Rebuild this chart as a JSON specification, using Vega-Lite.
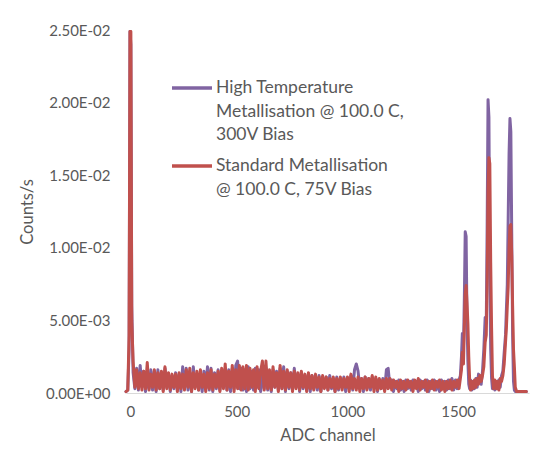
{
  "$schema": "https://vega.github.io/schema/vega-lite/v6.json",
  "autosize": {"type": "none"},
  "width": 403,
  "height": 363,
  "padding": {"left": 126, "top": 30, "right": 23, "bottom": 57},
  "background": "white",
  "config": {"view": {"stroke": null}, "font": "Lato"},
  "data": {"values": [
    {"c":0,"h":0.0001,"r":0.0001},{"c":8,"h":0.0002,"r":0.0002},{"c":14,"h":0.0030,"r":0.0040},{"c":18,"h":0.0249,"r":0.0249},{"c":22,"h":0.0240,"r":0.0249},{"c":26,"h":0.0060,"r":0.0050},
    {"c":32,"h":0.0014,"r":0.0022},{"c":40,"h":0.0003,"r":0.0004},{"c":48,"h":0.0017,"r":0.0016},{"c":56,"h":0.0002,"r":0.0003},{"c":64,"h":0.0019,"r":0.0014},{"c":72,"h":0.0004,"r":0.0002},{"c":80,"h":0.0015,"r":0.0015},{"c":88,"h":0.0001,"r":0.0003},{"c":96,"h":0.0013,"r":0.0021},{"c":104,"h":0.0003,"r":0.0002},{"c":112,"h":0.0016,"r":0.0013},{"c":120,"h":0.0002,"r":0.0004},{"c":128,"h":0.0015,"r":0.0016},{"c":136,"h":0.0001,"r":0.0002},{"c":144,"h":0.0016,"r":0.0014},{"c":152,"h":0.0003,"r":0.0003},{"c":160,"h":0.0014,"r":0.0015},{"c":168,"h":0.0002,"r":0.0001},{"c":176,"h":0.0017,"r":0.0018},{"c":184,"h":0.0004,"r":0.0003},{"c":192,"h":0.0013,"r":0.0014},{"c":200,"h":0.0001,"r":0.0002},{"c":208,"h":0.0012,"r":0.0013},{"c":216,"h":0.0003,"r":0.0004},{"c":224,"h":0.0014,"r":0.0013},{"c":232,"h":0.0002,"r":0.0001},{"c":240,"h":0.0013,"r":0.0014},{"c":248,"h":0.0001,"r":0.0003},{"c":256,"h":0.0018,"r":0.0013},{"c":264,"h":0.0003,"r":0.0002},{"c":272,"h":0.0017,"r":0.0016},{"c":280,"h":0.0002,"r":0.0004},{"c":288,"h":0.0014,"r":0.0017},{"c":296,"h":0.0001,"r":0.0001},{"c":304,"h":0.0018,"r":0.0014},{"c":312,"h":0.0004,"r":0.0003},{"c":320,"h":0.0013,"r":0.0015},{"c":328,"h":0.0002,"r":0.0002},{"c":336,"h":0.0014,"r":0.0016},{"c":344,"h":0.0001,"r":0.0004},{"c":352,"h":0.0015,"r":0.0013},{"c":360,"h":0.0003,"r":0.0001},{"c":368,"h":0.0018,"r":0.0014},{"c":376,"h":0.0002,"r":0.0003},{"c":384,"h":0.0017,"r":0.0016},{"c":392,"h":0.0001,"r":0.0002},{"c":400,"h":0.0014,"r":0.0013},{"c":408,"h":0.0003,"r":0.0004},{"c":416,"h":0.0016,"r":0.0015},{"c":424,"h":0.0002,"r":0.0001},{"c":432,"h":0.0015,"r":0.0017},{"c":440,"h":0.0004,"r":0.0003},{"c":448,"h":0.0014,"r":0.0020},{"c":456,"h":0.0002,"r":0.0002},{"c":464,"h":0.0016,"r":0.0015},{"c":472,"h":0.0001,"r":0.0004},{"c":480,"h":0.0017,"r":0.0019},{"c":488,"h":0.0003,"r":0.0001},{"c":496,"h":0.0019,"r":0.0016},{"c":504,"h":0.0022,"r":0.0003},{"c":512,"h":0.0003,"r":0.0019},{"c":520,"h":0.0017,"r":0.0002},{"c":528,"h":0.0002,"r":0.0018},{"c":536,"h":0.0016,"r":0.0003},{"c":544,"h":0.0001,"r":0.0019},{"c":552,"h":0.0018,"r":0.0002},{"c":560,"h":0.0003,"r":0.0017},{"c":568,"h":0.0015,"r":0.0004},{"c":576,"h":0.0002,"r":0.0016},{"c":584,"h":0.0017,"r":0.0001},{"c":592,"h":0.0004,"r":0.0018},{"c":600,"h":0.0016,"r":0.0003},{"c":608,"h":0.0001,"r":0.0015},{"c":616,"h":0.0015,"r":0.0022},{"c":624,"h":0.0003,"r":0.0002},{"c":632,"h":0.0017,"r":0.0022},{"c":640,"h":0.0002,"r":0.0003},{"c":648,"h":0.0014,"r":0.0016},{"c":656,"h":0.0001,"r":0.0002},{"c":664,"h":0.0016,"r":0.0018},{"c":672,"h":0.0004,"r":0.0004},{"c":680,"h":0.0015,"r":0.0014},{"c":688,"h":0.0002,"r":0.0001},{"c":696,"h":0.0017,"r":0.0019},{"c":704,"h":0.0003,"r":0.0003},{"c":712,"h":0.0018,"r":0.0015},{"c":720,"h":0.0001,"r":0.0002},{"c":728,"h":0.0015,"r":0.0016},{"c":736,"h":0.0003,"r":0.0004},{"c":744,"h":0.0014,"r":0.0014},{"c":752,"h":0.0002,"r":0.0001},{"c":760,"h":0.0017,"r":0.0015},{"c":768,"h":0.0004,"r":0.0003},{"c":776,"h":0.0013,"r":0.0014},{"c":784,"h":0.0001,"r":0.0002},{"c":792,"h":0.0014,"r":0.0015},{"c":800,"h":0.0003,"r":0.0004},{"c":808,"h":0.0012,"r":0.0013},{"c":816,"h":0.0002,"r":0.0001},{"c":824,"h":0.0013,"r":0.0014},{"c":832,"h":0.0001,"r":0.0003},{"c":840,"h":0.0012,"r":0.0012},{"c":848,"h":0.0003,"r":0.0002},{"c":856,"h":0.0011,"r":0.0013},{"c":864,"h":0.0002,"r":0.0004},{"c":872,"h":0.0012,"r":0.0011},{"c":880,"h":0.0001,"r":0.0001},{"c":888,"h":0.0010,"r":0.0012},{"c":896,"h":0.0004,"r":0.0003},{"c":904,"h":0.0011,"r":0.0011},{"c":912,"h":0.0002,"r":0.0002},{"c":920,"h":0.0012,"r":0.0010},{"c":928,"h":0.0003,"r":0.0004},{"c":936,"h":0.0010,"r":0.0011},{"c":944,"h":0.0001,"r":0.0001},{"c":952,"h":0.0011,"r":0.0010},{"c":960,"h":0.0002,"r":0.0003},{"c":968,"h":0.0010,"r":0.0011},{"c":976,"h":0.0004,"r":0.0002},{"c":984,"h":0.0011,"r":0.0010},{"c":992,"h":0.0001,"r":0.0004},{"c":1000,"h":0.0010,"r":0.0011},{"c":1008,"h":0.0003,"r":0.0001},{"c":1016,"h":0.0012,"r":0.0013},{"c":1024,"h":0.0002,"r":0.0003},{"c":1032,"h":0.0016,"r":0.0010},{"c":1040,"h":0.0020,"r":0.0002},{"c":1048,"h":0.0015,"r":0.0011},{"c":1056,"h":0.0003,"r":0.0001},{"c":1064,"h":0.0010,"r":0.0010},{"c":1072,"h":0.0001,"r":0.0003},{"c":1080,"h":0.0011,"r":0.0011},{"c":1088,"h":0.0003,"r":0.0002},{"c":1096,"h":0.0010,"r":0.0010},{"c":1104,"h":0.0002,"r":0.0004},{"c":1112,"h":0.0011,"r":0.0012},{"c":1120,"h":0.0004,"r":0.0001},{"c":1128,"h":0.0010,"r":0.0011},{"c":1136,"h":0.0001,"r":0.0002},{"c":1144,"h":0.0009,"r":0.0010},{"c":1152,"h":0.0003,"r":0.0003},{"c":1160,"h":0.0010,"r":0.0009},{"c":1168,"h":0.0002,"r":0.0001},{"c":1176,"h":0.0016,"r":0.0010},{"c":1184,"h":0.0017,"r":0.0003},{"c":1192,"h":0.0004,"r":0.0010},{"c":1200,"h":0.0009,"r":0.0002},{"c":1208,"h":0.0001,"r":0.0009},{"c":1216,"h":0.0008,"r":0.0004},{"c":1224,"h":0.0003,"r":0.0008},{"c":1232,"h":0.0009,"r":0.0001},{"c":1240,"h":0.0002,"r":0.0009},{"c":1248,"h":0.0008,"r":0.0003},{"c":1256,"h":0.0001,"r":0.0008},{"c":1264,"h":0.0009,"r":0.0002},{"c":1272,"h":0.0003,"r":0.0009},{"c":1280,"h":0.0008,"r":0.0004},{"c":1288,"h":0.0002,"r":0.0008},{"c":1296,"h":0.0009,"r":0.0001},{"c":1304,"h":0.0004,"r":0.0009},{"c":1312,"h":0.0008,"r":0.0003},{"c":1320,"h":0.0001,"r":0.0010},{"c":1328,"h":0.0009,"r":0.0002},{"c":1336,"h":0.0003,"r":0.0008},{"c":1344,"h":0.0008,"r":0.0004},{"c":1352,"h":0.0002,"r":0.0009},{"c":1360,"h":0.0009,"r":0.0001},{"c":1368,"h":0.0001,"r":0.0008},{"c":1376,"h":0.0008,"r":0.0003},{"c":1384,"h":0.0003,"r":0.0009},{"c":1392,"h":0.0009,"r":0.0002},{"c":1400,"h":0.0002,"r":0.0008},{"c":1408,"h":0.0008,"r":0.0004},{"c":1416,"h":0.0001,"r":0.0009},{"c":1424,"h":0.0009,"r":0.0002},{"c":1432,"h":0.0004,"r":0.0008},{"c":1440,"h":0.0008,"r":0.0001},{"c":1448,"h":0.0002,"r":0.0008},{"c":1456,"h":0.0009,"r":0.0003},{"c":1464,"h":0.0003,"r":0.0009},{"c":1472,"h":0.0010,"r":0.0002},{"c":1480,"h":0.0002,"r":0.0008},{"c":1488,"h":0.0009,"r":0.0004},{"c":1496,"h":0.0003,"r":0.0009},
    {"c":1504,"h":0.0009,"r":0.0003},{"c":1510,"h":0.0012,"r":0.0010},{"c":1515,"h":0.0025,"r":0.0016},{"c":1519,"h":0.0041,"r":0.0028},{"c":1524,"h":0.0030,"r":0.0020},{"c":1528,"h":0.0065,"r":0.0045},{"c":1532,"h":0.0111,"r":0.0068},{"c":1536,"h":0.0108,"r":0.0074},{"c":1540,"h":0.0050,"r":0.0062},{"c":1544,"h":0.0022,"r":0.0048},{"c":1548,"h":0.0006,"r":0.0025},{"c":1552,"h":0.0003,"r":0.0009},{"c":1556,"h":0.0009,"r":0.0002},{"c":1562,"h":0.0002,"r":0.0008},{"c":1568,"h":0.0008,"r":0.0003},{"c":1574,"h":0.0003,"r":0.0009},{"c":1580,"h":0.0010,"r":0.0004},{"c":1586,"h":0.0004,"r":0.0010},{"c":1592,"h":0.0013,"r":0.0006},{"c":1598,"h":0.0011,"r":0.0012},{"c":1604,"h":0.0006,"r":0.0008},{"c":1610,"h":0.0015,"r":0.0012},{"c":1616,"h":0.0030,"r":0.0018},{"c":1622,"h":0.0052,"r":0.0035},{"c":1627,"h":0.0048,"r":0.0040},{"c":1631,"h":0.0114,"r":0.0075},{"c":1635,"h":0.0202,"r":0.0140},{"c":1639,"h":0.0190,"r":0.0162},{"c":1643,"h":0.0080,"r":0.0158},{"c":1647,"h":0.0030,"r":0.0090},{"c":1651,"h":0.0010,"r":0.0045},{"c":1655,"h":0.0003,"r":0.0012},{"c":1660,"h":0.0008,"r":0.0003},{"c":1666,"h":0.0002,"r":0.0009},{"c":1672,"h":0.0007,"r":0.0003},{"c":1678,"h":0.0003,"r":0.0008},{"c":1684,"h":0.0009,"r":0.0002},{"c":1690,"h":0.0004,"r":0.0010},{"c":1696,"h":0.0012,"r":0.0008},{"c":1702,"h":0.0015,"r":0.0012},{"c":1708,"h":0.0028,"r":0.0020},{"c":1714,"h":0.0040,"r":0.0035},{"c":1718,"h":0.0058,"r":0.0045},{"c":1722,"h":0.0075,"r":0.0060},{"c":1726,"h":0.0120,"r":0.0073},{"c":1730,"h":0.0165,"r":0.0100},{"c":1734,"h":0.0189,"r":0.0115},{"c":1738,"h":0.0180,"r":0.0116},{"c":1742,"h":0.0110,"r":0.0095},{"c":1746,"h":0.0040,"r":0.0060},{"c":1750,"h":0.0008,"r":0.0030},{"c":1754,"h":0.0002,"r":0.0018},{"c":1758,"h":0.0001,"r":0.0004},{"c":1764,"h":0.0001,"r":0.0001},{"c":1780,"h":0.0001,"r":0.0001},{"c":1796,"h":0.0001,"r":0.0001},{"c":1808,"h":0.0001,"r":0.0001}
  ]},
  "transform": [{"fold": ["h", "r"], "as": ["series", "v"]}],
  "mark": {"type": "line", "strokeWidth": 3, "strokeCap": "round", "strokeJoin": "round", "clip": false},
  "encoding": {
    "x": {
      "field": "c", "type": "quantitative",
      "scale": {"domain": [0, 1820], "nice": false, "zero": false},
      "axis": {
        "title": "ADC channel", "values": [0, 500, 1000, 1500], "format": "d",
        "grid": false, "ticks": false, "domain": true, "domainColor": "#D9D9D9", "domainWidth": 1,
        "labelFont": "Lato", "labelFontSize": 15, "labelColor": "#595959", "labelPadding": 11,
        "titleFont": "Lato", "titleFontSize": 16.5, "titleFontWeight": "normal", "titleColor": "#595959", "titlePadding": 8
      }
    },
    "y": {
      "field": "v", "type": "quantitative",
      "scale": {"domain": [0, 0.025], "nice": false},
      "axis": {
        "title": "Counts/s", "values": [0, 0.005, 0.01, 0.015, 0.02, 0.025],
        "labelExpr": "datum.value == 0 ? '0.00E+00' : format(datum.value / pow(10, floor(log(datum.value)/LN10 + 1e-9)), '.2f') + 'E-0' + (-floor(log(datum.value)/LN10 + 1e-9))",
        "grid": false, "ticks": false, "domain": false,
        "labelFont": "Lato", "labelFontSize": 15, "labelColor": "#595959", "labelPadding": 16,
        "titleFont": "Lato", "titleFontSize": 16.5, "titleFontWeight": "normal", "titleColor": "#595959", "titlePadding": 10
      }
    },
    "color": {
      "field": "series", "type": "nominal",
      "scale": {"domain": ["h", "r"], "range": ["#8064A2", "#C0504D"]},
      "legend": {
        "orient": "none", "legendX": 44, "legendY": 36, "title": null,
        "symbolType": "stroke", "symbolSize": 1600, "symbolStrokeWidth": 3.5,
        "labelExpr": "datum.value == 'h' ? ['High Temperature', 'Metallisation @ 100.0 C,', '300V Bias'] : ['Standard Metallisation', '@ 100.0 C, 75V Bias']",
        "labelFont": "Lato", "labelFontSize": 17.5, "labelColor": "#595959", "labelLimit": 400,
        "rowPadding": -2, "labelOffset": 2,
        "encode": {"labels": {"update": {"lineHeight": {"value": 23.5}}}}
      }
    }
  }
}
